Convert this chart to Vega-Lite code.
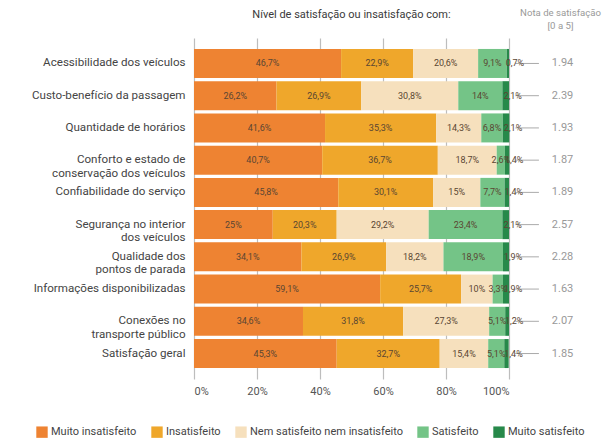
{
  "$schema": "https://vega.github.io/schema/vega-lite/v6.json",
  "width": 315,
  "height": 341,
  "autosize": {"type": "none"},
  "padding": {"left": 194, "top": 38, "right": 99, "bottom": 65},
  "background": "white",
  "config": {
    "font": "Roboto",
    "view": {"stroke": null},
    "axis": {"labelFont": "Roboto", "titleFont": "Roboto"},
    "legend": {"labelFont": "Roboto"}
  },
  "title": {
    "text": "Nível de satisfação ou insatisfação com:",
    "anchor": "middle",
    "frame": "group",
    "fontSize": 11,
    "fontWeight": "normal",
    "color": "#3a3a3a",
    "offset": -13
  },
  "datasets": {
    "resp": [
      {"c": "Acessibilidade dos veículos", "n": "Muito insatisfeito", "o": 1, "v": 46.7},
      {"c": "Acessibilidade dos veículos", "n": "Insatisfeito", "o": 2, "v": 22.9},
      {"c": "Acessibilidade dos veículos", "n": "Nem satisfeito nem insatisfeito", "o": 3, "v": 20.6},
      {"c": "Acessibilidade dos veículos", "n": "Satisfeito", "o": 4, "v": 9.1},
      {"c": "Acessibilidade dos veículos", "n": "Muito satisfeito", "o": 5, "v": 0.7},
      {"c": "Custo-benefício da passagem", "n": "Muito insatisfeito", "o": 1, "v": 26.2},
      {"c": "Custo-benefício da passagem", "n": "Insatisfeito", "o": 2, "v": 26.9},
      {"c": "Custo-benefício da passagem", "n": "Nem satisfeito nem insatisfeito", "o": 3, "v": 30.8},
      {"c": "Custo-benefício da passagem", "n": "Satisfeito", "o": 4, "v": 14},
      {"c": "Custo-benefício da passagem", "n": "Muito satisfeito", "o": 5, "v": 2.1},
      {"c": "Quantidade de horários", "n": "Muito insatisfeito", "o": 1, "v": 41.6},
      {"c": "Quantidade de horários", "n": "Insatisfeito", "o": 2, "v": 35.3},
      {"c": "Quantidade de horários", "n": "Nem satisfeito nem insatisfeito", "o": 3, "v": 14.3},
      {"c": "Quantidade de horários", "n": "Satisfeito", "o": 4, "v": 6.8},
      {"c": "Quantidade de horários", "n": "Muito satisfeito", "o": 5, "v": 2.1},
      {"c": "Conforto e estado de|conservação dos veículos", "n": "Muito insatisfeito", "o": 1, "v": 40.7},
      {"c": "Conforto e estado de|conservação dos veículos", "n": "Insatisfeito", "o": 2, "v": 36.7},
      {"c": "Conforto e estado de|conservação dos veículos", "n": "Nem satisfeito nem insatisfeito", "o": 3, "v": 18.7},
      {"c": "Conforto e estado de|conservação dos veículos", "n": "Satisfeito", "o": 4, "v": 2.6},
      {"c": "Conforto e estado de|conservação dos veículos", "n": "Muito satisfeito", "o": 5, "v": 1.4},
      {"c": "Confiabilidade do serviço", "n": "Muito insatisfeito", "o": 1, "v": 45.8},
      {"c": "Confiabilidade do serviço", "n": "Insatisfeito", "o": 2, "v": 30.1},
      {"c": "Confiabilidade do serviço", "n": "Nem satisfeito nem insatisfeito", "o": 3, "v": 15},
      {"c": "Confiabilidade do serviço", "n": "Satisfeito", "o": 4, "v": 7.7},
      {"c": "Confiabilidade do serviço", "n": "Muito satisfeito", "o": 5, "v": 1.4},
      {"c": "Segurança no interior|dos veículos", "n": "Muito insatisfeito", "o": 1, "v": 25},
      {"c": "Segurança no interior|dos veículos", "n": "Insatisfeito", "o": 2, "v": 20.3},
      {"c": "Segurança no interior|dos veículos", "n": "Nem satisfeito nem insatisfeito", "o": 3, "v": 29.2},
      {"c": "Segurança no interior|dos veículos", "n": "Satisfeito", "o": 4, "v": 23.4},
      {"c": "Segurança no interior|dos veículos", "n": "Muito satisfeito", "o": 5, "v": 2.1},
      {"c": "Qualidade dos|pontos de parada", "n": "Muito insatisfeito", "o": 1, "v": 34.1},
      {"c": "Qualidade dos|pontos de parada", "n": "Insatisfeito", "o": 2, "v": 26.9},
      {"c": "Qualidade dos|pontos de parada", "n": "Nem satisfeito nem insatisfeito", "o": 3, "v": 18.2},
      {"c": "Qualidade dos|pontos de parada", "n": "Satisfeito", "o": 4, "v": 18.9},
      {"c": "Qualidade dos|pontos de parada", "n": "Muito satisfeito", "o": 5, "v": 1.9},
      {"c": "Informações disponibilizadas", "n": "Muito insatisfeito", "o": 1, "v": 59.1},
      {"c": "Informações disponibilizadas", "n": "Insatisfeito", "o": 2, "v": 25.7},
      {"c": "Informações disponibilizadas", "n": "Nem satisfeito nem insatisfeito", "o": 3, "v": 10},
      {"c": "Informações disponibilizadas", "n": "Satisfeito", "o": 4, "v": 3.3},
      {"c": "Informações disponibilizadas", "n": "Muito satisfeito", "o": 5, "v": 1.9},
      {"c": "Conexões no|transporte público", "n": "Muito insatisfeito", "o": 1, "v": 34.6},
      {"c": "Conexões no|transporte público", "n": "Insatisfeito", "o": 2, "v": 31.8},
      {"c": "Conexões no|transporte público", "n": "Nem satisfeito nem insatisfeito", "o": 3, "v": 27.3},
      {"c": "Conexões no|transporte público", "n": "Satisfeito", "o": 4, "v": 5.1},
      {"c": "Conexões no|transporte público", "n": "Muito satisfeito", "o": 5, "v": 1.2},
      {"c": "Satisfação geral", "n": "Muito insatisfeito", "o": 1, "v": 45.3},
      {"c": "Satisfação geral", "n": "Insatisfeito", "o": 2, "v": 32.7},
      {"c": "Satisfação geral", "n": "Nem satisfeito nem insatisfeito", "o": 3, "v": 15.4},
      {"c": "Satisfação geral", "n": "Satisfeito", "o": 4, "v": 5.1},
      {"c": "Satisfação geral", "n": "Muito satisfeito", "o": 5, "v": 1.4}
    ],
    "notas": [
      {"c": "Acessibilidade dos veículos", "nota": "1.94"},
      {"c": "Custo-benefício da passagem", "nota": "2.39"},
      {"c": "Quantidade de horários", "nota": "1.93"},
      {"c": "Conforto e estado de|conservação dos veículos", "nota": "1.87"},
      {"c": "Confiabilidade do serviço", "nota": "1.89"},
      {"c": "Segurança no interior|dos veículos", "nota": "2.57"},
      {"c": "Qualidade dos|pontos de parada", "nota": "2.28"},
      {"c": "Informações disponibilizadas", "nota": "1.63"},
      {"c": "Conexões no|transporte público", "nota": "2.07"},
      {"c": "Satisfação geral", "nota": "1.85"}
    ]
  },
  "resolve": {"axis": {"y": "independent"}},
  "layer": [
    {
      "data": {"name": "resp"},
      "transform": [
        {"stack": "v", "groupby": ["c"], "sort": [{"field": "o"}], "as": ["x0", "x1"]}
      ],
      "mark": {"type": "bar"},
      "encoding": {
        "y": {
          "field": "c", "type": "nominal", "sort": null,
          "scale": {"paddingInner": 0.1, "paddingOuter": 0.34},
          "axis": {
            "title": null, "domain": false, "ticks": false, "grid": false,
            "labelExpr": "split(datum.label, '|')",
            "labelFontSize": 11.6, "labelColor": "#444", "labelPadding": 9,
            "labelLineHeight": 13.5, "labelLimit": 200
          }
        },
        "x": {
          "field": "x0", "type": "quantitative",
          "scale": {"domain": [0, 100], "nice": false},
          "axis": {
            "title": null, "values": [0, 20, 40, 60, 80, 100],
            "labelExpr": "datum.value + '%'",
            "domain": false, "ticks": false, "grid": true,
            "gridColor": "#bdbdbd", "gridWidth": 1.2,
            "labelFontSize": 11, "labelColor": "#555", "labelPadding": 6
          }
        },
        "x2": {"field": "x1"},
        "color": {
          "field": "n", "type": "nominal",
          "sort": ["Muito insatisfeito", "Insatisfeito", "Nem satisfeito nem insatisfeito", "Satisfeito", "Muito satisfeito"],
          "scale": {
            "domain": ["Muito insatisfeito", "Insatisfeito", "Nem satisfeito nem insatisfeito", "Satisfeito", "Muito satisfeito"],
            "range": ["#EE8332", "#EFA72B", "#F6E0BD", "#74C487", "#27894A"]
          },
          "legend": {
            "title": null, "orient": "none", "direction": "horizontal",
            "legendX": -158, "legendY": 388,
            "symbolType": "square", "symbolSize": 130, "symbolStrokeWidth": 0,
            "symbolOpacity": 1,
            "labelFontSize": 11, "labelColor": "#444", "labelOffset": 3,
            "columnPadding": 14
          }
        }
      }
    },
    {
      "data": {"name": "resp"},
      "transform": [
        {"stack": "v", "groupby": ["c"], "sort": [{"field": "o"}], "as": ["x0", "x1"]},
        {"calculate": "(datum.x0 + datum.x1) / 2", "as": "mid"},
        {"calculate": "replace(format(datum.v, '.1~f'), '.', ',') + '%'", "as": "lab"},
        {"filter": "datum.o < 5"}
      ],
      "mark": {"type": "text", "fontSize": 9, "color": "#5a4632"},
      "encoding": {
        "y": {"field": "c", "type": "nominal", "sort": null, "axis": null},
        "x": {"field": "mid", "type": "quantitative"},
        "text": {"field": "lab"}
      }
    },
    {
      "data": {"name": "notas"},
      "mark": {"type": "rule", "color": "#aaa", "strokeWidth": 1},
      "encoding": {
        "y": {"field": "c", "type": "nominal", "sort": null, "axis": null},
        "x": {"datum": 102},
        "x2": {"datum": 109.5}
      }
    },
    {
      "data": {"name": "resp"},
      "transform": [
        {"stack": "v", "groupby": ["c"], "sort": [{"field": "o"}], "as": ["x0", "x1"]},
        {"calculate": "(datum.x0 + datum.x1) / 2", "as": "mid"},
        {"calculate": "replace(format(datum.v, '.1~f'), '.', ',') + '%'", "as": "lab"},
        {"filter": "datum.o == 5"}
      ],
      "mark": {"type": "text", "fontSize": 9, "color": "#5a4632", "dx": 7},
      "encoding": {
        "y": {"field": "c", "type": "nominal", "sort": null, "axis": null},
        "x": {"field": "mid", "type": "quantitative"},
        "text": {"field": "lab"}
      }
    },
    {
      "data": {"name": "notas"},
      "mark": {"type": "text", "fontSize": 11, "color": "#999"},
      "encoding": {
        "y": {
          "field": "c", "type": "nominal", "sort": null,
          "axis": {
            "orient": "right", "labels": false, "ticks": false, "domain": false, "grid": false,
            "title": ["Nota de satisfação", "[0 a 5]"],
            "titleAngle": 0, "titleAlign": "center", "titleBaseline": "top",
            "titleX": 51, "titleY": -31, "titleFontSize": 9.6, "titleFontWeight": "normal",
            "titleColor": "#999", "titleLineHeight": 13
          }
        },
        "x": {"datum": 117},
        "text": {"field": "nota"}
      }
    }
  ]
}
